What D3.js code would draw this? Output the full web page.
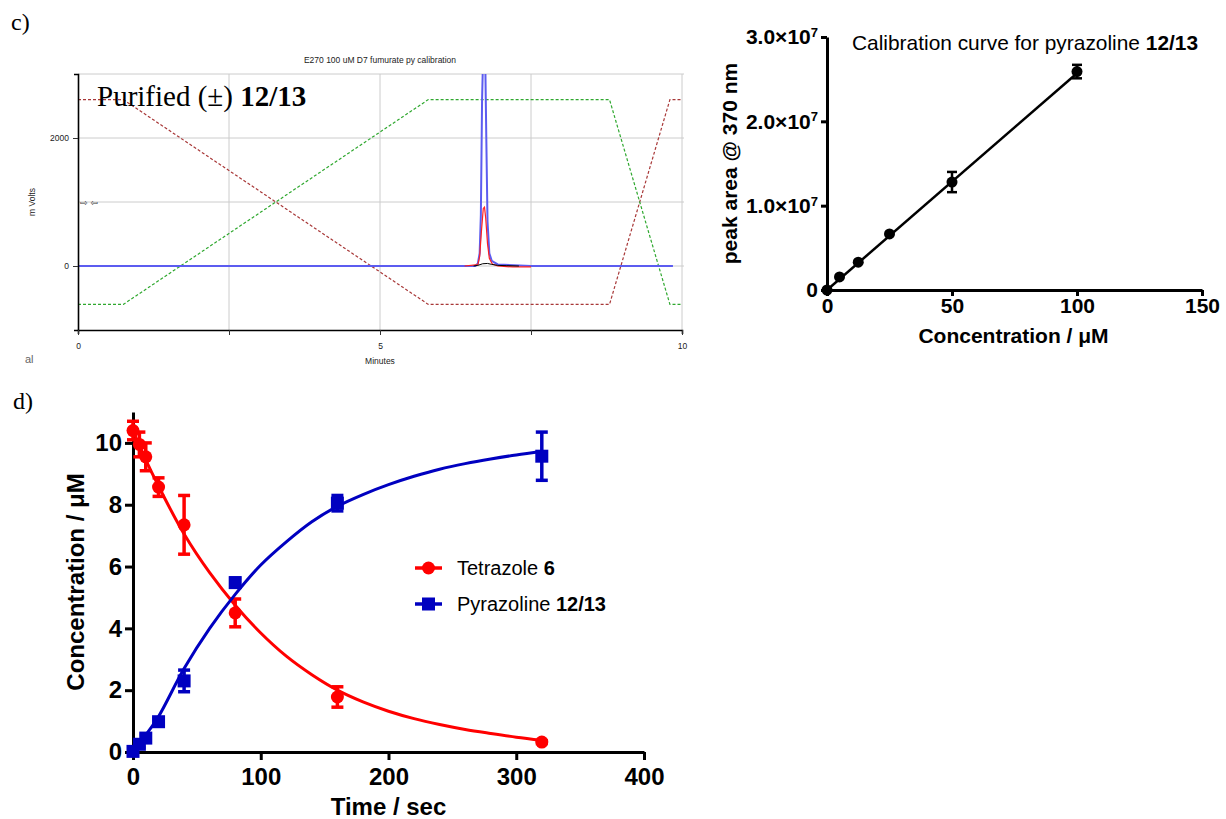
<!DOCTYPE html>
<html>
<head>
<meta charset="utf-8">
<script src="https://cdn.jsdelivr.net/npm/d3@7"></script>
<style>
  body { margin: 0; background: #fff; }
  svg { display: block; }
</style>
</head>
<body>
<svg id="fig" width="1226" height="819"></svg>
<script>
// ---- Chromatogram (panel c, left) ----
const chromXTicks = [0, 2.5, 5, 7.5, 10];
const chromYTicks = [0, 2000];
const chromGridY = [0, 1000, 2000, 3000];
// solvent gradient traces [minutes, mV]
const gradientRed = [[0, 2600], [0.75, 2600], [5.8, -600], [8.8, -600], [9.8, 2600], [10, 2600]];
const gradientGreen = [[0, -600], [0.75, -600], [5.8, 2600], [8.8, 2600], [9.8, -600], [10, -600]];
// detector traces
const traceBlue = [[0, 0], [6.58, 0], [6.62, 40], [6.65, 200], [6.67, 800], [6.69, 2600], [6.71, 3400],
  [6.74, 3400], [6.76, 2000], [6.78, 700], [6.81, 200], [6.85, 80], [6.95, 25], [7.5, 0], [9.85, 0]];
const traceRed = [[6.4, 0], [6.62, 20], [6.65, 150], [6.68, 550], [6.71, 900], [6.73, 920], [6.75, 750],
  [6.78, 350], [6.81, 120], [6.86, 30], [6.95, 0], [7.2, -15], [7.5, -15]];
const traceBlack = [[6.55, 0], [6.62, 10], [6.7, 35], [6.78, 40], [6.85, 25], [6.95, 10], [7.1, 5], [7.3, 0]];

// ---- Calibration (panel c, right) ----
const calConc = [0, 5, 12.5, 25, 50, 100];
const calArea = [0, 1.55e6, 3.3e6, 6.65e6, 1.28e7, 2.59e7];
const calErr = [0, 0, 0, 0, 1.2e6, 0.8e6];
const calFit = [[0, 0], [100, 2.57e7]];
const calXTicks = [0, 50, 100, 150];
const calYTicks = [0, 1e7, 2e7, 3e7];

// ---- Kinetics (panel d) ----
const times = [0, 5, 10, 20, 40, 80, 160, 320];
const tetrazole = [10.4, 9.95, 9.55, 8.57, 7.35, 4.5, 1.78, 0.32];
const tetrazoleErr = [0.3, 0.4, 0.45, 0.3, 0.95, 0.45, 0.33, 0.05];
const pyrazoline = [0.02, 0.25, 0.45, 0.98, 2.3, 5.48, 8.05, 9.57];
const pyrazolineErr = [0.05, 0.1, 0.1, 0.1, 0.35, 0.15, 0.25, 0.78];
const fitTimes = [0, 10, 20, 40, 60, 80, 100, 120, 140, 160, 180, 200, 220, 240, 260, 280, 300, 320];
const tetrazoleFit = [10.4, 9.45, 8.6, 7.05, 5.8, 4.75, 3.85, 3.1, 2.5, 2.0, 1.62, 1.32, 1.08, 0.89, 0.73, 0.6, 0.48, 0.38];
const pyrazolineFit = [0, 0.55, 1.15, 2.7, 4.0, 5.1, 6.05, 6.8, 7.45, 7.95, 8.33, 8.65, 8.92, 9.15, 9.33, 9.48, 9.61, 9.72];
const kinXTicks = [0, 100, 200, 300, 400];
const kinYTicks = [0, 2, 4, 6, 8, 10];

const SANS = '"Liberation Sans", Arial, sans-serif';
const SERIF = '"Liberation Serif", "Times New Roman", serif';

const svg = d3.select('#fig');

// panel letters
svg.append('text').attr('x', 11).attr('y', 30).attr('font-family', SERIF).attr('font-size', 24).text('c)');
svg.append('text').attr('x', 13).attr('y', 409).attr('font-family', SERIF).attr('font-size', 24).text('d)');

// =========================== Chromatogram ===========================
const cx = d3.scaleLinear().domain([0, 10]).range([78, 682]);
const cy = d3.scaleLinear().domain([-1000, 3000]).range([330, 74]);
const chrom = svg.append('g');

chrom.append('defs').append('clipPath').attr('id', 'chromClip')
  .append('rect').attr('x', cx(0)).attr('y', cy(3000))
  .attr('width', cx(10) - cx(0) + 2).attr('height', cy(-1000) - cy(3000));

chrom.append('text')
  .attr('x', cx(5)).attr('y', 63).attr('text-anchor', 'middle')
  .attr('font-family', SANS).attr('font-size', 8.5).attr('fill', '#222')
  .text('E270 100 uM D7 fumurate py calibration');

// grid
chrom.append('g').selectAll('line')
  .data(chromGridY)
  .join('line')
  .attr('x1', cx(0)).attr('x2', cx(10) + 2)
  .attr('y1', d => cy(d)).attr('y2', d => cy(d))
  .attr('stroke', '#cccccc');
chrom.append('g').selectAll('line')
  .data(chromXTicks.filter(d => d > 0))
  .join('line')
  .attr('x1', d => cx(d)).attr('x2', d => cx(d))
  .attr('y1', cy(3000)).attr('y2', cy(-1000))
  .attr('stroke', '#cccccc');

const chromLine = d3.line().x(d => cx(d[0])).y(d => cy(d[1]));
const traces = chrom.append('g').attr('clip-path', 'url(#chromClip)');

traces.append('path').attr('d', chromLine(gradientRed))
  .attr('fill', 'none').attr('stroke', '#a83838').attr('stroke-width', 1.2).attr('stroke-dasharray', '3,2');
traces.append('path').attr('d', chromLine(gradientGreen))
  .attr('fill', 'none').attr('stroke', '#2fa82f').attr('stroke-width', 1.2).attr('stroke-dasharray', '3,2');
traces.append('path').attr('d', chromLine(traceBlue))
  .attr('fill', 'none').attr('stroke', '#5c5cf0').attr('stroke-width', 2);
traces.append('path').attr('d', chromLine(traceRed))
  .attr('fill', 'none').attr('stroke', '#ff2020').attr('stroke-width', 1.2);
traces.append('path').attr('d', chromLine(traceBlack))
  .attr('fill', 'none').attr('stroke', '#000').attr('stroke-width', 1);

// axes
const chromY = chrom.append('g').attr('transform', `translate(${cx(0)},0)`)
  .call(d3.axisLeft(cy).tickValues(chromYTicks).tickFormat(d3.format('d'))
    .tickSize(5).tickSizeOuter(4).tickPadding(4));
const chromX = chrom.append('g').attr('transform', `translate(0,${cy(-1000)})`)
  .call(d3.axisBottom(cx).tickValues(chromXTicks).tickFormat(d => d % 5 === 0 ? d : '')
    .tickSize(5).tickSizeOuter(4).tickPadding(8));
[chromY, chromX].forEach(g => {
  g.attr('font-family', SANS).attr('font-size', 8.5);
  g.select('.domain').attr('stroke', '#000').attr('stroke-width', 1.6);
  g.selectAll('.tick line').attr('stroke', '#333');
  g.selectAll('.tick text').attr('fill', '#222');
});

chrom.append('text')
  .attr('transform', `translate(35,${cy(1000)}) rotate(-90)`)
  .attr('text-anchor', 'middle').attr('font-family', SANS).attr('font-size', 8.5).attr('fill', '#222')
  .text('m Volts');
chrom.append('text')
  .attr('x', cx(5)).attr('y', 364).attr('text-anchor', 'middle')
  .attr('font-family', SANS).attr('font-size', 8.5).attr('fill', '#222')
  .text('Minutes');
chrom.append('text')
  .attr('x', 80).attr('y', cy(1000) + 3.5)
  .attr('font-family', '"DejaVu Sans", sans-serif').attr('font-size', 9).attr('fill', '#333')
  .text('⇨ ⇦');
chrom.append('text')
  .attr('x', 25).attr('y', 363)
  .attr('font-family', SANS).attr('font-size', 11).attr('fill', '#666')
  .text('al');

const purified = chrom.append('text')
  .attr('x', 97).attr('y', 106).attr('font-family', SERIF).attr('font-size', 29);
purified.append('tspan').text('Purified (±) ');
purified.append('tspan').attr('font-weight', 'bold').text('12/13');

// ====================== Prism-style axis helper ======================
function prismAxis(g, fontSize) {
  g.attr('font-family', SANS).attr('font-size', fontSize).attr('font-weight', 'bold');
  g.select('.domain').attr('stroke', '#000').attr('stroke-width', 3);
  g.selectAll('.tick line').attr('stroke', '#000').attr('stroke-width', 3);
  g.selectAll('.tick text').attr('fill', '#000');
}

// ============================ Calibration ============================
const kx = d3.scaleLinear().domain([0, 150]).range([827, 1202]);
const ky = d3.scaleLinear().domain([0, 3e7]).range([290, 37]);
const cal = svg.append('g');

const calYAxis = cal.append('g').attr('transform', `translate(${kx(0)},0)`)
  .call(d3.axisLeft(ky).tickValues(calYTicks).tickSize(6).tickSizeOuter(0).tickPadding(3).tickFormat(''));
calYAxis.selectAll('.tick text').each(function (d) {
  const t = d3.select(this);
  if (d === 0) { t.text('0'); return; }
  t.append('tspan').text((d / 1e7).toFixed(1) + '×10');
  t.append('tspan').attr('dy', '-0.55em').attr('font-size', '0.62em').text('7');
});
prismAxis(calYAxis, 21);

const calXAxis = cal.append('g').attr('transform', `translate(0,${ky(0)})`)
  .call(d3.axisBottom(kx).tickValues(calXTicks).tickSize(6).tickSizeOuter(0).tickPadding(2));
prismAxis(calXAxis, 21);

cal.append('text')
  .attr('x', (kx(0) + kx(150)) / 2 - 1).attr('y', 343).attr('text-anchor', 'middle')
  .attr('font-family', SANS).attr('font-size', 21).attr('font-weight', 'bold')
  .text('Concentration / μM');
cal.append('text')
  .attr('transform', `translate(737,${(ky(0) + ky(3e7)) / 2}) rotate(-90)`)
  .attr('text-anchor', 'middle').attr('font-family', SANS).attr('font-size', 21).attr('font-weight', 'bold')
  .text('peak area @ 370 nm');
const calTitle = cal.append('text')
  .attr('x', 852).attr('y', 50).attr('font-family', SANS).attr('font-size', 20.9);
calTitle.append('tspan').text('Calibration curve for pyrazoline ');
calTitle.append('tspan').attr('font-weight', 'bold').text('12/13');

cal.append('path')
  .attr('d', d3.line().x(d => kx(d[0])).y(d => ky(d[1]))(calFit))
  .attr('fill', 'none').attr('stroke', '#000').attr('stroke-width', 2.5);

const calPts = calConc.map((c, i) => ({ x: c, y: calArea[i], e: calErr[i] }));
const calErrG = cal.append('g').selectAll('g').data(calPts.filter(d => d.e > 0)).join('g')
  .attr('stroke', '#000').attr('stroke-width', 2.5);
calErrG.append('line')
  .attr('x1', d => kx(d.x)).attr('x2', d => kx(d.x))
  .attr('y1', d => ky(d.y - d.e)).attr('y2', d => ky(d.y + d.e));
calErrG.append('line')
  .attr('x1', d => kx(d.x) - 5).attr('x2', d => kx(d.x) + 5)
  .attr('y1', d => ky(d.y + d.e)).attr('y2', d => ky(d.y + d.e));
calErrG.append('line')
  .attr('x1', d => kx(d.x) - 5).attr('x2', d => kx(d.x) + 5)
  .attr('y1', d => ky(d.y - d.e)).attr('y2', d => ky(d.y - d.e));
cal.append('g').selectAll('circle').data(calPts).join('circle')
  .attr('cx', d => kx(d.x)).attr('cy', d => ky(d.y)).attr('r', 5.5).attr('fill', '#000');

// ============================== Kinetics ==============================
const dx = d3.scaleLinear().domain([0, 400]).range([133, 644]);
const dy = d3.scaleLinear().domain([0, 11]).range([752, 412]);
const kin = svg.append('g');

const kinYAxis = kin.append('g').attr('transform', `translate(${dx(0)},0)`)
  .call(d3.axisLeft(dy).tickValues(kinYTicks).tickSize(8).tickSizeOuter(0).tickPadding(3));
prismAxis(kinYAxis, 24);
const kinXAxis = kin.append('g').attr('transform', `translate(0,${dy(0)})`)
  .call(d3.axisBottom(dx).tickValues(kinXTicks).tickSize(8).tickSizeOuter(0).tickPadding(8));
prismAxis(kinXAxis, 24);

kin.append('text')
  .attr('x', (dx(0) + dx(400)) / 2).attr('y', 815).attr('text-anchor', 'middle')
  .attr('font-family', SANS).attr('font-size', 24).attr('font-weight', 'bold')
  .text('Time / sec');
kin.append('text')
  .attr('transform', `translate(84,${(dy(0) + dy(11)) / 2}) rotate(-90)`)
  .attr('text-anchor', 'middle').attr('font-family', SANS).attr('font-size', 24).attr('font-weight', 'bold')
  .text('Concentration / μM');

const series = [
  { name: 'Tetrazole ', bold: '6', color: '#ff0000', shape: 'circle', vals: tetrazole, errs: tetrazoleErr, fit: tetrazoleFit },
  { name: 'Pyrazoline ', bold: '12/13', color: '#0000c0', shape: 'square', vals: pyrazoline, errs: pyrazolineErr, fit: pyrazolineFit }
];

const fitLine = d3.line().x((d, i) => dx(fitTimes[i])).y(d => dy(d)).curve(d3.curveCatmullRom);

function marker(g, shape, color, x, y) {
  if (shape === 'circle') {
    g.append('circle').attr('cx', x).attr('cy', y).attr('r', 6.5).attr('fill', color);
  } else {
    g.append('rect').attr('x', x - 6.5).attr('y', y - 6.5).attr('width', 13).attr('height', 13).attr('fill', color);
  }
}

series.forEach(s => {
  const g = kin.append('g');
  g.append('path').attr('d', fitLine(s.fit))
    .attr('fill', 'none').attr('stroke', s.color).attr('stroke-width', 3);
  const pts = times.map((t, i) => ({ t, v: s.vals[i], e: s.errs[i] }));
  const eb = g.append('g').selectAll('g').data(pts).join('g')
    .attr('stroke', s.color).attr('stroke-width', 3.5);
  eb.append('line')
    .attr('x1', d => dx(d.t)).attr('x2', d => dx(d.t))
    .attr('y1', d => dy(d.v - d.e)).attr('y2', d => dy(d.v + d.e));
  eb.append('line')
    .attr('x1', d => dx(d.t) - 6).attr('x2', d => dx(d.t) + 6)
    .attr('y1', d => dy(d.v + d.e)).attr('y2', d => dy(d.v + d.e));
  eb.append('line')
    .attr('x1', d => dx(d.t) - 6).attr('x2', d => dx(d.t) + 6)
    .attr('y1', d => dy(d.v - d.e)).attr('y2', d => dy(d.v - d.e));
  const mg = g.append('g');
  pts.forEach(d => marker(mg, s.shape, s.color, dx(d.t), dy(d.v)));
});

// legend
series.forEach((s, i) => {
  const y = 568 + i * 36;
  const lg = kin.append('g');
  lg.append('line').attr('x1', 415).attr('x2', 442).attr('y1', y).attr('y2', y)
    .attr('stroke', s.color).attr('stroke-width', 3.5);
  marker(lg, s.shape, s.color, 428.5, y);
  const t = lg.append('text').attr('x', 457).attr('y', y + 7)
    .attr('font-family', SANS).attr('font-size', 20);
  t.append('tspan').text(s.name);
  t.append('tspan').attr('font-weight', 'bold').text(s.bold);
});
</script>
</body>
</html>
